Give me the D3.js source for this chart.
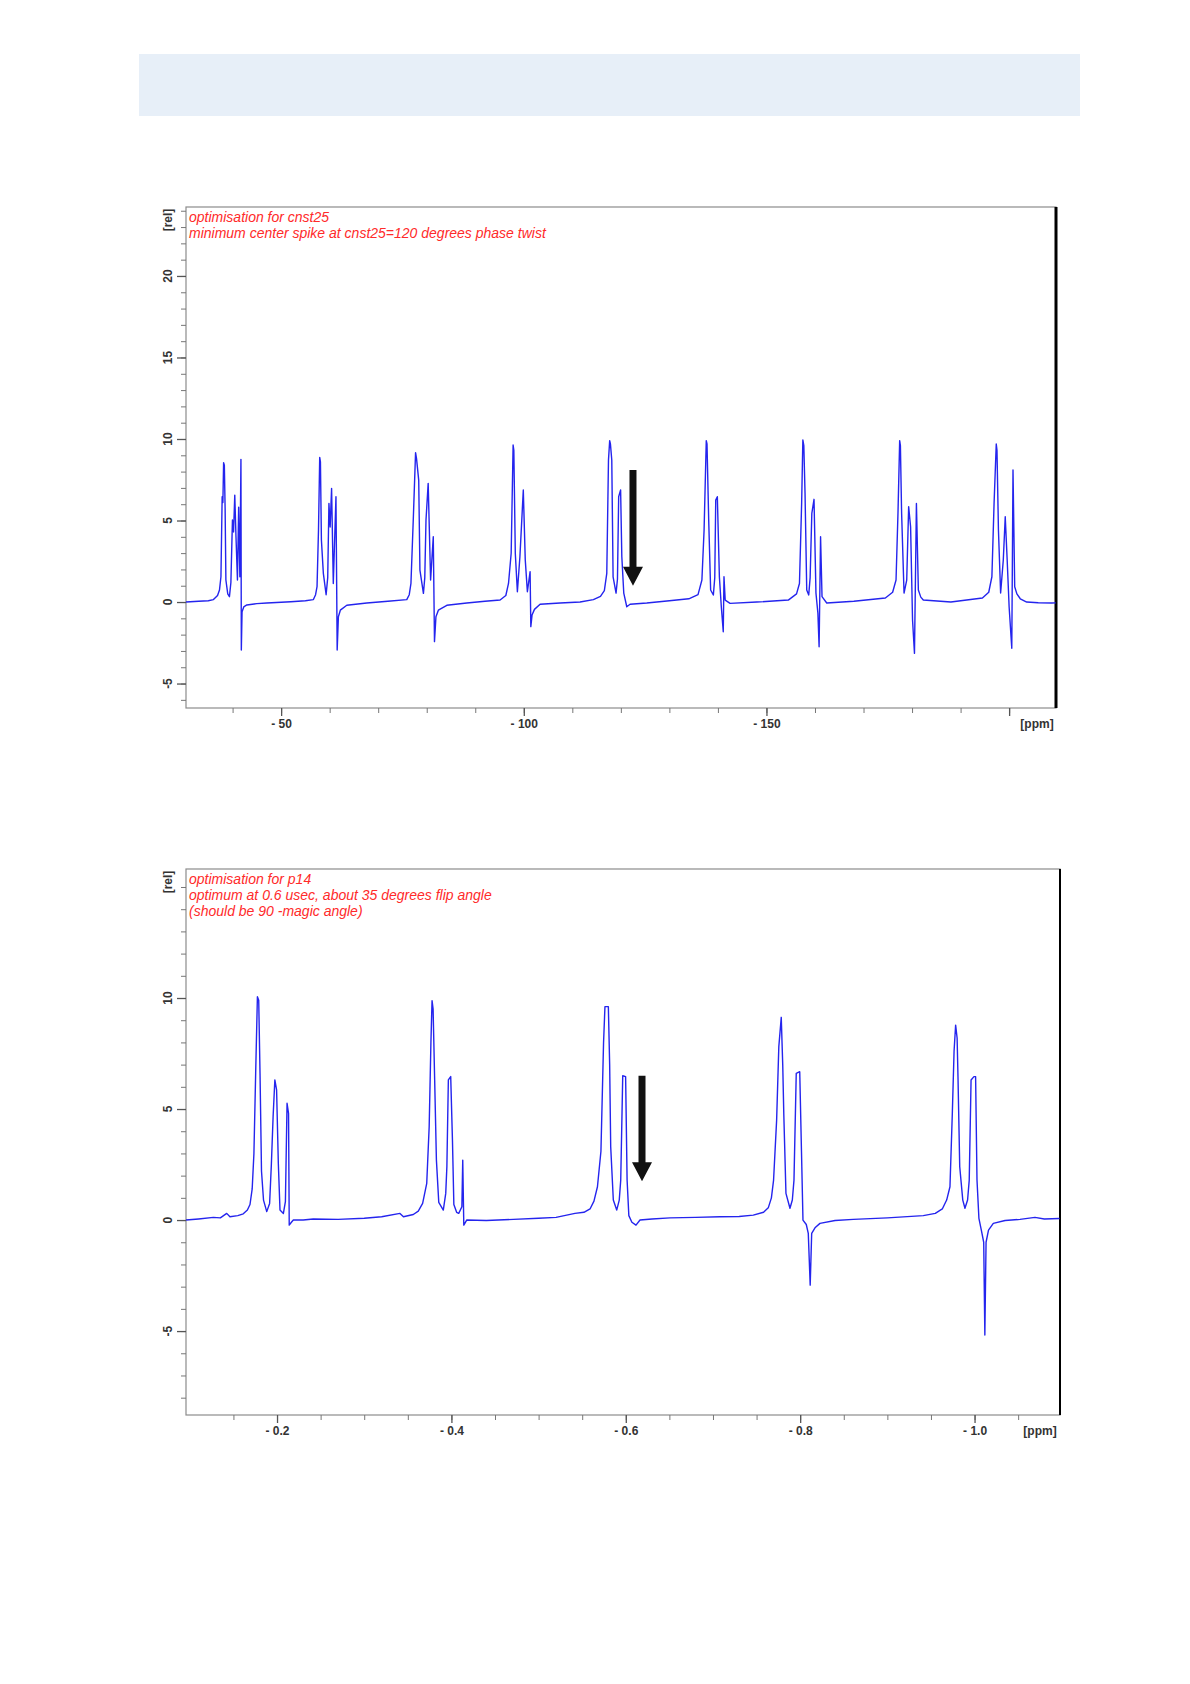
<!DOCTYPE html>
<html>
<head>
<meta charset="utf-8">
<script src="https://cdn.jsdelivr.net/npm/d3@7/dist/d3.min.js"></script>
<style>
  body { margin: 0; background: #ffffff; }
</style>
</head>
<body>
<div id="page"></div>
<script>
const PAGE_WIDTH = 1190;
const PAGE_HEIGHT = 1684;

// ---- spectrum 1 : cnst25 series ----
const SPEC1_NOTES = ["optimisation for cnst25",
                     "minimum center spike at cnst25=120 degrees phase twist"];
const SPEC1_X_TICKS = [-50, -100, -150, -200];
const SPEC1_X_LABELS = ["- 50", "- 100", "- 150", ""];
const SPEC1_Y_TICKS = [-5, 0, 5, 10, 15, 20];
const SPEC1_Y_LABELS = ["-5", "0", "5", "10", "15", "20"];
// [ppm, rel]
const SPEC1_TRACE = [
  [-30.4, 0.0], [-33.0, 0.05], [-35.0, 0.08], [-36.06, 0.15], [-36.9, 0.4], [-37.3, 0.74], [-37.6, 1.55],
  [-37.85, 6.46], [-38.0, 6.1], [-38.15, 8.55], [-38.3, 8.4], [-38.46, 5.75], [-38.62, 1.35],
  [-39.0, 0.5], [-39.35, 0.33], [-39.65, 1.2], [-39.97, 5.03], [-40.2, 4.3], [-40.45, 6.56],
  [-40.7, 4.0], [-41.0, 1.35], [-41.25, 5.81], [-41.5, 1.55], [-41.72, 8.75], [-41.8, -2.94],
  [-41.95, -0.6], [-42.3, -0.3], [-42.93, -0.18], [-45.0, -0.1], [-47.05, -0.06], [-52.0, 0.02],
  [-55.0, 0.08], [-56.65, 0.15], [-57.1, 0.45], [-57.4, 0.94], [-57.7, 4.42], [-57.95, 8.87],
  [-58.1, 8.6], [-58.3, 3.8], [-58.7, 1.76], [-59.27, 0.45], [-59.6, 1.5], [-59.85, 6.05],
  [-60.1, 4.6], [-60.4, 6.97], [-60.75, 1.14], [-61.3, 6.46], [-61.55, -2.94], [-61.8, -0.9],
  [-62.2, -0.5], [-63.53, -0.2], [-67.65, -0.06], [-72.0, 0.05], [-75.89, 0.15], [-76.4, 0.45],
  [-76.75, 1.14], [-77.25, 5.23], [-77.7, 9.16], [-77.9, 8.8], [-78.35, 7.48], [-78.6, 1.96],
  [-79.32, 0.53], [-79.6, 1.5], [-79.85, 5.03], [-80.3, 7.28], [-80.8, 1.35], [-81.35, 4.0],
  [-81.6, -2.43], [-81.9, -0.9], [-82.4, -0.5], [-84.14, -0.2], [-88.26, -0.06], [-92.0, 0.05],
  [-95.12, 0.12], [-96.3, 0.4], [-96.85, 1.14], [-97.4, 2.99], [-97.8, 9.63], [-97.95, 9.3],
  [-98.25, 2.99], [-98.68, 0.63], [-99.2, 2.78], [-99.9, 6.87], [-100.3, 2.6], [-100.74, 0.63],
  [-101.3, 1.86], [-101.45, -1.51], [-101.7, -0.8], [-102.2, -0.45], [-103.36, -0.14],
  [-107.48, -0.06], [-111.6, 0.0], [-114.34, 0.15], [-115.8, 0.35], [-116.6, 0.7], [-117.1, 1.76],
  [-117.45, 8.71], [-117.7, 9.9], [-117.85, 9.7], [-118.13, 8.71], [-118.4, 1.55], [-119.01, 0.55],
  [-119.3, 1.4], [-119.55, 6.46], [-119.95, 6.87], [-120.2, 2.78], [-120.6, 0.55], [-121.22, -0.29],
  [-121.9, -0.14], [-125.34, -0.06], [-130.0, 0.08], [-134.0, 0.2], [-135.9, 0.45], [-136.7, 1.35],
  [-137.15, 4.42], [-137.6, 9.9], [-137.75, 9.7], [-138.1, 5.03], [-138.5, 0.74], [-139.06, 0.43],
  [-139.35, 1.5], [-139.55, 6.25], [-139.88, 6.46], [-140.3, 1.55], [-140.7, -0.29], [-141.1, -1.82],
  [-141.25, 1.55], [-141.5, 0.12], [-142.5, -0.08], [-148.0, 0.0], [-154.5, 0.12], [-156.2, 0.5],
  [-156.8, 1.14], [-157.25, 6.05], [-157.5, 9.94], [-157.7, 9.6], [-157.95, 6.67], [-158.3, 0.74],
  [-158.71, 0.43], [-159.0, 1.5], [-159.35, 5.44], [-159.8, 6.3], [-160.2, 0.55], [-160.6, -0.69],
  [-160.85, -2.74], [-161.15, 4.0], [-161.45, 0.33], [-162.42, -0.06], [-168.0, 0.05],
  [-174.5, 0.25], [-176.0, 0.6], [-176.7, 1.35], [-177.1, 5.44], [-177.45, 9.9], [-177.6, 9.6],
  [-177.85, 5.44], [-178.35, 0.55], [-178.9, 1.35], [-179.3, 5.85], [-179.7, 4.62], [-180.1, -1.1],
  [-180.5, -3.15], [-180.9, 6.05], [-181.3, 0.74], [-181.8, 0.3], [-182.32, 0.12], [-188.0, 0.0],
  [-194.5, 0.25], [-195.8, 0.6], [-196.45, 1.55], [-196.9, 6.05], [-197.35, 9.69], [-197.5, 9.3],
  [-197.8, 4.42], [-198.25, 0.55], [-198.8, 2.58], [-199.2, 5.23], [-199.6, 2.58], [-200.0, -0.29],
  [-200.55, -2.84], [-200.8, 8.1], [-201.15, 0.94], [-201.6, 0.5], [-202.3, 0.2], [-203.62, 0.0],
  [-206.0, -0.04], [-208.77, -0.06], [-209.6, -0.05]
];
const SPEC1_ARROW = [-122.5, 8.1, 1.0];   // ppm, from rel, to rel

// ---- spectrum 2 : p14 series ----
const SPEC2_NOTES = ["optimisation for p14",
                     "optimum at 0.6 usec, about 35 degrees flip angle",
                     "(should be 90 -magic angle)"];
const SPEC2_X_TICKS = [-0.2, -0.4, -0.6, -0.8, -1.0];
const SPEC2_X_LABELS = ["- 0.2", "- 0.4", "- 0.6", "- 0.8", "- 1.0"];
const SPEC2_Y_TICKS = [-5, 0, 5, 10];
const SPEC2_Y_LABELS = ["-5", "0", "5", "10"];
const SPEC2_TRACE = [
  [-0.0956, 0.0], [-0.11, 0.05], [-0.127, 0.12], [-0.135, 0.1], [-0.1423, 0.3], [-0.146, 0.15],
  [-0.155, 0.2], [-0.1613, 0.28], [-0.166, 0.45], [-0.169, 0.7], [-0.1715, 1.4], [-0.1735, 3.0],
  [-0.1755, 6.61], [-0.1775, 10.06], [-0.179, 9.9], [-0.1805, 6.61], [-0.1822, 2.2], [-0.1845, 0.9],
  [-0.1882, 0.38], [-0.1915, 0.75], [-0.1935, 2.5], [-0.1955, 4.65], [-0.1975, 6.31], [-0.1995, 5.86],
  [-0.2015, 2.55], [-0.2034, 0.45], [-0.2073, 0.3], [-0.2096, 0.83], [-0.2115, 5.26], [-0.2132, 4.8],
  [-0.214, -0.23], [-0.2165, -0.1], [-0.2187, 0.0], [-0.23, 0.0], [-0.2416, 0.05], [-0.27, 0.03],
  [-0.30, 0.08], [-0.32, 0.15], [-0.341, 0.3], [-0.345, 0.15], [-0.3563, 0.25], [-0.362, 0.4],
  [-0.367, 0.75], [-0.3717, 1.65], [-0.3745, 4.2], [-0.3765, 8.0], [-0.3778, 9.88], [-0.379, 9.5],
  [-0.3808, 6.31], [-0.3828, 2.7], [-0.3855, 0.8], [-0.3907, 0.45], [-0.3935, 1.2], [-0.3948, 2.4],
  [-0.3965, 6.31], [-0.3992, 6.46], [-0.4012, 3.6], [-0.4028, 0.7], [-0.406, 0.35], [-0.4084, 0.3],
  [-0.412, 0.6], [-0.413, 2.7], [-0.4142, -0.23], [-0.4175, 0.0], [-0.44, -0.02], [-0.471, 0.03],
  [-0.50, 0.08], [-0.52, 0.12], [-0.5417, 0.3], [-0.552, 0.35], [-0.559, 0.5], [-0.5635, 0.85],
  [-0.5675, 1.5], [-0.5715, 3.1], [-0.5745, 8.0], [-0.5761, 9.61], [-0.58, 9.61], [-0.5815, 7.0],
  [-0.5827, 3.3], [-0.5857, 0.9], [-0.5896, 0.45], [-0.5925, 0.9], [-0.5942, 1.8], [-0.5965, 6.5],
  [-0.5998, 6.46], [-0.6015, 1.8], [-0.6035, 0.2], [-0.607, -0.1], [-0.6117, -0.23], [-0.6163, 0.0],
  [-0.63, 0.05], [-0.6507, 0.1], [-0.68, 0.12], [-0.708, 0.15], [-0.73, 0.16], [-0.7462, 0.22],
  [-0.758, 0.35], [-0.7634, 0.55], [-0.767, 1.0], [-0.7695, 1.8], [-0.773, 4.5], [-0.7755, 7.8],
  [-0.7783, 9.13], [-0.78, 7.0], [-0.7812, 4.8], [-0.7837, 1.2], [-0.7883, 0.53], [-0.791, 0.9],
  [-0.7929, 1.8], [-0.7955, 6.61], [-0.7995, 6.68], [-0.8015, 3.1], [-0.8032, 0.0], [-0.807, -0.2],
  [-0.8093, -0.6], [-0.8115, -2.93], [-0.8132, -0.6], [-0.817, -0.35], [-0.8227, -0.15],
  [-0.84, -0.02], [-0.8609, 0.03], [-0.90, 0.1], [-0.9412, 0.2], [-0.955, 0.3], [-0.963, 0.5],
  [-0.968, 0.9], [-0.9718, 1.5], [-0.9745, 4.8], [-0.9765, 7.6], [-0.9783, 8.78], [-0.98, 8.2],
  [-0.981, 6.46], [-0.983, 2.4], [-0.9865, 0.9], [-0.989, 0.53], [-0.992, 0.9], [-0.9939, 1.8],
  [-0.996, 6.31], [-0.9993, 6.46], [-1.0012, 6.46], [-1.0028, 1.8], [-1.005, 0.08], [-1.008, -0.5],
  [-1.0105, -1.0], [-1.0118, -5.18], [-1.0132, -1.0], [-1.016, -0.45], [-1.0215, -0.15],
  [-1.035, -0.02], [-1.0521, 0.03], [-1.0693, 0.12], [-1.08, 0.05], [-1.0975, 0.07]
];
const SPEC2_ARROW = [-0.6186, 6.5, 1.75];

const FRAME = d3.select("#page")
                .append("svg")
                .attr("width", PAGE_WIDTH)
                .attr("height", PAGE_HEIGHT)
                .style("display", "block");

// light blue header band
FRAME.append("rect")
     .attr("x", 139).attr("y", 54)
     .attr("width", 941).attr("height", 62)
     .attr("fill", "#e7eff8");

function draw_spectrum(opts) {
  const box = opts.box;
  const X_SCALE = d3.scaleLinear().domain(opts.xDomain).range([box.left, box.right]);
  const Y_SCALE = d3.scaleLinear().domain(opts.yDomain).range([box.bottom, box.top]);
  const g = FRAME.append("g");

  // frame
  g.append("rect")
   .attr("x", box.left).attr("y", box.top)
   .attr("width", box.right - box.left).attr("height", box.bottom - box.top)
   .attr("fill", "none").attr("stroke", "#8c8c8c").attr("stroke-width", 1.2);
  g.append("line")
   .attr("x1", box.right).attr("x2", box.right)
   .attr("y1", box.top).attr("y2", box.bottom)
   .attr("stroke", "#000").attr("stroke-width", opts.rightWidth);

  const tickFont = (sel) => sel.attr("font-family", "Liberation Sans, Arial, sans-serif")
                                .attr("font-size", "12px").attr("font-weight", "bold")
                                .attr("fill", "#333");

  // x axis: minor then major ticks
  const xMinor = d3.range(opts.xMinor[0], opts.xMinor[1] - 1e-9, -opts.xMinor[2]);
  g.append("g")
   .attr("transform", "translate(0," + box.bottom + ")")
   .call(d3.axisBottom(X_SCALE).tickValues(xMinor).tickSize(5).tickFormat(""))
   .call(a => a.select(".domain").remove())
   .call(a => a.selectAll("line").attr("stroke", "#777"));
  const xAxis = g.append("g")
   .attr("transform", "translate(0," + box.bottom + ")")
   .call(d3.axisBottom(X_SCALE).tickValues(opts.xTicks).tickSize(8)
           .tickFormat((d, i) => opts.xLabels[i]).tickPadding(3))
   .call(a => a.select(".domain").remove())
   .call(a => a.selectAll("line").attr("stroke", "#555").attr("stroke-width", 1.3));
  xAxis.selectAll("text").call(tickFont);
  g.append("text")
   .attr("x", opts.ppmX).attr("y", box.bottom + 20)
   .attr("text-anchor", "middle").text("[ppm]").call(tickFont);

  // y axis
  const yMinor = d3.range(Math.ceil(opts.yDomain[0]), opts.yDomain[1], 1);
  g.append("g")
   .attr("transform", "translate(" + box.left + ",0)")
   .call(d3.axisLeft(Y_SCALE).tickValues(yMinor).tickSize(5).tickFormat(""))
   .call(a => a.select(".domain").remove())
   .call(a => a.selectAll("line").attr("stroke", "#777"));
  g.append("g")
   .attr("transform", "translate(" + box.left + ",0)")
   .call(d3.axisLeft(Y_SCALE).tickValues(opts.yTicks).tickSize(9).tickFormat(""))
   .call(a => a.select(".domain").remove())
   .call(a => a.selectAll("line").attr("stroke", "#555").attr("stroke-width", 1.3));
  g.selectAll(".ylab")
   .data(opts.yTicks)
   .enter()
   .append("text")
     .attr("transform", (d) => "translate(" + (box.left - 14) + "," + Y_SCALE(d) + ") rotate(-90)")
     .attr("text-anchor", "middle")
     .text((d, i) => opts.yLabels[i])
     .call(tickFont);
  g.append("text")
   .attr("transform", "translate(" + (box.left - 14) + "," + (box.top + 13) + ") rotate(-90)")
   .attr("text-anchor", "middle").text("[rel]").call(tickFont);

  // notes
  g.selectAll(".note")
   .data(opts.notes)
   .enter()
   .append("text")
     .attr("x", box.left + 3)
     .attr("y", (d, i) => box.top + 15 + i * 16)
     .attr("font-family", "Liberation Sans, Arial, sans-serif")
     .attr("font-size", "14px").attr("font-style", "italic")
     .attr("fill", "#ff2a2a")
     .text((d) => d);

  // spectrum trace
  const line = d3.line().x((d) => X_SCALE(d[0])).y((d) => Y_SCALE(d[1]));
  g.append("path")
   .datum(opts.trace)
   .attr("d", line)
   .attr("fill", "none")
   .attr("stroke", "#2424ee")
   .attr("stroke-width", 1.4)
   .attr("stroke-linejoin", "round");

  // arrow pointing at the centre band
  const ax = X_SCALE(opts.arrow[0]);
  const ay0 = Y_SCALE(opts.arrow[1]);
  const ay1 = Y_SCALE(opts.arrow[2]);
  const head = 19, hw = 10, sw = 3.5;
  g.append("path")
   .attr("d", "M" + (ax - sw) + "," + ay0 + "L" + (ax + sw) + "," + ay0 +
              "L" + (ax + sw) + "," + (ay1 - head) + "L" + (ax + hw) + "," + (ay1 - head) +
              "L" + ax + "," + ay1 + "L" + (ax - hw) + "," + (ay1 - head) +
              "L" + (ax - sw) + "," + (ay1 - head) + "Z")
   .attr("fill", "#111");
}

draw_spectrum({
  box: {left: 186, right: 1056, top: 207, bottom: 708},
  xDomain: [-30.4, -209.66], yDomain: [-6.5, 24.23],
  xTicks: SPEC1_X_TICKS, xLabels: SPEC1_X_LABELS, xMinor: [-40, -209, 10],
  yTicks: SPEC1_Y_TICKS, yLabels: SPEC1_Y_LABELS,
  notes: SPEC1_NOTES, trace: SPEC1_TRACE, arrow: SPEC1_ARROW,
  ppmX: 1037, rightWidth: 3
});

draw_spectrum({
  box: {left: 186, right: 1060, top: 869, bottom: 1415},
  xDomain: [-0.0956, -1.098], yDomain: [-8.78, 15.81],
  xTicks: SPEC2_X_TICKS, xLabels: SPEC2_X_LABELS, xMinor: [-0.15, -1.09, 0.05],
  yTicks: SPEC2_Y_TICKS, yLabels: SPEC2_Y_LABELS,
  notes: SPEC2_NOTES, trace: SPEC2_TRACE, arrow: SPEC2_ARROW,
  ppmX: 1040, rightWidth: 2
});
</script>
</body>
</html>
